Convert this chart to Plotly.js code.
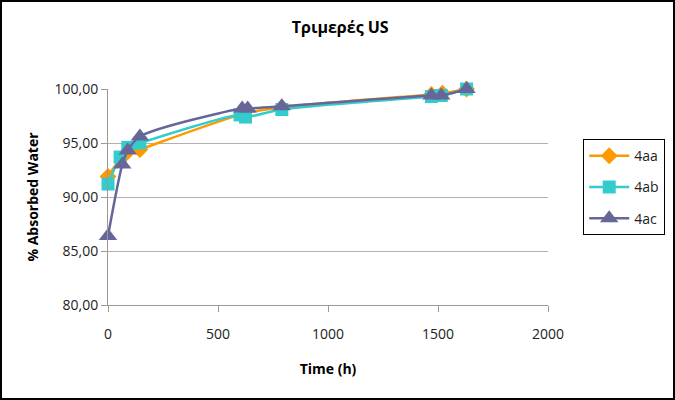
<!DOCTYPE html>
<html>
<head>
<meta charset="utf-8">
<script src="https://cdn.plot.ly/plotly-3.0.1.min.js"></script>
<style>
html,body{margin:0;padding:0;background:#fff;}
#frame{position:absolute;left:0;top:0;width:671px;height:396px;border:2px solid #000;}
#chart{position:absolute;left:-2px;top:-2px;width:675px;height:400px;}
</style>
</head>
<body>
<div id="frame"><div id="chart"></div></div>
<script>
const seriesNames = ["4aa", "4ab", "4ac"];
const time_aa = [0, 75, 145, 615, 790, 1470, 1520, 1630];
const water_aa = [91.9, 93.9, 94.4, 97.7, 98.3, 99.5, 99.6, 100.0];
const time_ab = [0, 55, 90, 145, 600, 625, 790, 1470, 1515, 1630];
const water_ab = [91.2, 93.7, 94.6, 95.0, 97.6, 97.4, 98.1, 99.3, 99.4, 100.0];
const time_ac = [0, 65, 90, 145, 610, 635, 790, 1470, 1515, 1630];
const water_ac = [86.4, 93.0, 94.3, 95.6, 98.2, 98.2, 98.4, 99.4, 99.4, 100.0];
const xTicks = [0, 500, 1000, 1500, 2000];
const yTicks = [80, 85, 90, 95, 100];
const yTickLabels = ["80,00", "85,00", "90,00", "95,00", "100,00"];

const colors = ["#FF9900", "#33CCCC", "#666699"];
const symbols = ["diamond", "square", "triangle-up"];
const sizes = [13, 13, 16];
const xs = [time_aa, time_ab, time_ac];
const ys = [water_aa, water_ab, water_ac];

const traces = seriesNames.map((n, i) => ({
  x: xs[i], y: ys[i], name: n, type: "scatter", mode: "lines+markers",
  legendgroup: n, cliponaxis: false,
  line: {color: colors[i], width: 2.5, shape: "spline", smoothing: 0.8},
  marker: {color: colors[i], symbol: symbols[i], size: sizes[i]},
  hoverinfo: "skip"
}));

const font = "Open Sans, Liberation Sans, sans-serif";
const layout = {
  width: 675, height: 400,
  margin: {l: 108, r: 127, t: 89, b: 95},
  paper_bgcolor: "rgba(0,0,0,0)", plot_bgcolor: "#fff",
  font: {family: font, size: 13, color: "#222"},
  title: {text: "<b>Τριμερές US</b>", x: 0.504, xanchor: "center", y: 0.932, yanchor: "middle",
          font: {family: font, size: 16, color: "#000"}},
  xaxis: {range: [0, 2000], tickvals: xTicks, showgrid: false, zeroline: false, automargin: false,
          showline: true, linecolor: "#999", linewidth: 1, ticks: "outside", ticklen: 6, tickcolor: "#999",
          ticklabelstandoff: 10,
          tickfont: {size: 14, color: "#222"},
          title: {text: "<b>Time (h)</b>", standoff: 22, font: {size: 14, color: "#000"}}},
  yaxis: {range: [80, 100], tickvals: yTicks, ticktext: yTickLabels, showgrid: true, gridcolor: "#b0b0b0", gridwidth: 1,
          zeroline: false, showline: true, linecolor: "#999", linewidth: 1, ticks: "outside", ticklen: 6, tickcolor: "#999",
          automargin: false,
          tickfont: {size: 14, color: "#222"},
          title: {text: "<b>% Absorbed Water</b>", standoff: 12, font: {size: 14, color: "#000"}}},
  legend: {xref: "container", yref: "container", x: 0.864, xanchor: "left", y: 0.652, yanchor: "top",
           bordercolor: "#000", borderwidth: 1,
           bgcolor: "#fff", font: {size: 14, color: "#222"}, traceorder: "grouped", tracegroupgap: 10, itemwidth: 40},
  showlegend: true
};
Plotly.newPlot("chart", traces, layout, {staticPlot: true, displayModeBar: false});
</script>
</body>
</html>
